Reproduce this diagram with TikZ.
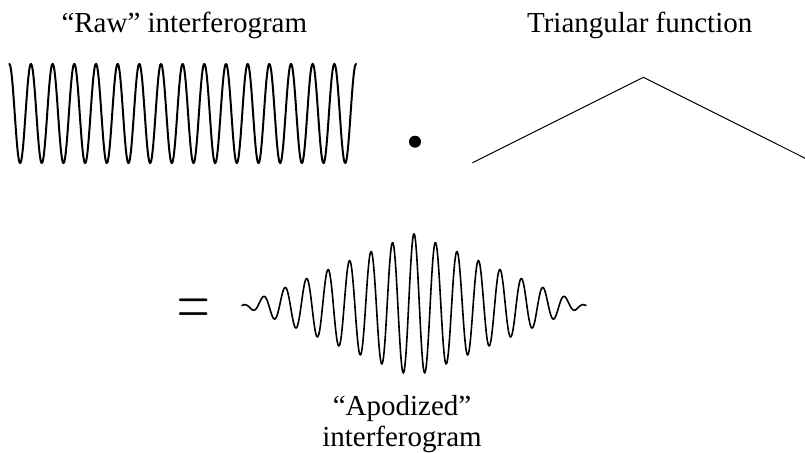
\RequirePackage{fix-cm}
\documentclass[tikz,border=0pt]{standalone}
\usepackage{fontspec}
\setmainfont{Liberation Serif}
\begin{document}
\begin{tikzpicture}[x=1pt,y=-1pt,font=\fontsize{29}{31}\selectfont,line join=round,line cap=round]
	\useasboundingbox (0,0) rectangle (805,452);
	% Labels on top
	\node[anchor=base] (rawlabel) at (184.3,33) {“Raw” interferogram};
	\node[anchor=base] (trilabel) at (639.7,33) {Triangular function};
	% Raw interferogram
	\draw[line width=2pt,smooth,samples=400,domain=9.3:356] plot (\x,{113.5-49.7*cos((\x-9.3)/21.67*360)});
	% Product sign
	\fill (415,141.7) circle (6);
	% Triangular function
	\path (472.7,162.7) coordinate (L)
	(643.3,77.3) coordinate (T)
	(814,162.7) coordinate (R)
	;
	\draw[line width=1pt] (L)--(T)--(R);
	% Equals sign
	\node[inner sep=0pt] (eq) at (193.3,312.6) {\fontsize{45}{45}\selectfont\scalebox{1}[1.72]{$=$}};
	% Apodized interferogram
	\draw[line width=1.6pt,smooth,samples=500,domain=242:586] plot (\x,{305.5-72*(1-abs(\x-414)/172)*cos((\x-414)/21.5*360)});
	\node[anchor=base,align=center] (apolabel) at (402,446) {“Apodized”\\interferogram};
\end{tikzpicture}
\end{document}
